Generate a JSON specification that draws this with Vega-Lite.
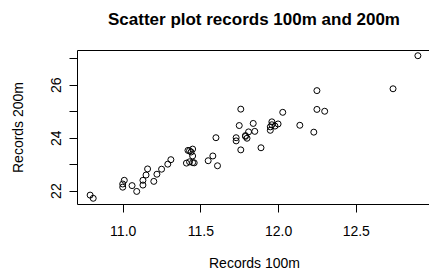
{
  "$schema": "https://vega.github.io/schema/vega-lite/v6.json",
  "autosize": "none",
  "padding": {"left": 77, "top": 50, "right": 0, "bottom": 71},
  "width": 354,
  "height": 154,
  "title": {
    "text": "Scatter plot records 100m and 200m",
    "font": "Liberation Sans",
    "fontSize": 17,
    "fontWeight": "bold",
    "color": "black",
    "anchor": "middle",
    "baseline": "alphabetic",
    "offset": 8
  },
  "config": {
    "view": {"stroke": "black", "strokeWidth": 1},
    "font": "Liberation Sans",
    "axis": {
      "grid": false,
      "domain": false,
      "tickColor": "black",
      "tickSize": 8,
      "tickWidth": 1,
      "labelColor": "black",
      "labelFont": "Liberation Sans",
      "labelFontSize": 14,
      "titleFont": "Liberation Sans",
      "titleFontSize": 14,
      "titleFontWeight": "normal",
      "titleColor": "black"
    }
  },
  "data": {
    "values": [
      {"country": "Argentina", "m100": 11.61, "m200": 22.94},
      {"country": "Australia", "m100": 11.20, "m200": 22.35},
      {"country": "Austria", "m100": 11.43, "m200": 23.09},
      {"country": "Belgium", "m100": 11.41, "m200": 23.04},
      {"country": "Bermuda", "m100": 11.46, "m200": 23.05},
      {"country": "Brazil", "m100": 11.31, "m200": 23.17},
      {"country": "Burma", "m100": 12.14, "m200": 24.47},
      {"country": "Canada", "m100": 11.00, "m200": 22.25},
      {"country": "Chile", "m100": 12.00, "m200": 24.52},
      {"country": "China", "m100": 11.95, "m200": 24.41},
      {"country": "Colombia", "m100": 11.60, "m200": 24.00},
      {"country": "Cook Islands", "m100": 12.90, "m200": 27.10},
      {"country": "Costa Rica", "m100": 11.96, "m200": 24.60},
      {"country": "Czechoslovakia", "m100": 11.09, "m200": 21.97},
      {"country": "Denmark", "m100": 11.42, "m200": 23.52},
      {"country": "Dominican Republic", "m100": 11.79, "m200": 24.05},
      {"country": "Finland", "m100": 11.13, "m200": 22.39},
      {"country": "France", "m100": 11.15, "m200": 22.59},
      {"country": "East Germany", "m100": 10.81, "m200": 21.71},
      {"country": "West Germany", "m100": 11.01, "m200": 22.39},
      {"country": "UK", "m100": 11.00, "m200": 22.13},
      {"country": "Greece", "m100": 11.79, "m200": 24.08},
      {"country": "Guatemala", "m100": 11.84, "m200": 24.54},
      {"country": "Hungary", "m100": 11.45, "m200": 23.06},
      {"country": "India", "m100": 11.95, "m200": 24.28},
      {"country": "Indonesia", "m100": 11.85, "m200": 24.24},
      {"country": "Ireland", "m100": 11.43, "m200": 23.51},
      {"country": "Israel", "m100": 11.45, "m200": 23.57},
      {"country": "Italy", "m100": 11.29, "m200": 23.00},
      {"country": "Japan", "m100": 11.73, "m200": 24.00},
      {"country": "Kenya", "m100": 11.73, "m200": 23.88},
      {"country": "Korea", "m100": 11.96, "m200": 24.49},
      {"country": "DPR Korea", "m100": 12.25, "m200": 25.78},
      {"country": "Luxembourg", "m100": 12.03, "m200": 24.96},
      {"country": "Malaysia", "m100": 12.23, "m200": 24.21},
      {"country": "Mauritius", "m100": 11.76, "m200": 25.08},
      {"country": "Mexico", "m100": 11.89, "m200": 23.62},
      {"country": "Netherlands", "m100": 11.25, "m200": 22.81},
      {"country": "New Zealand", "m100": 11.55, "m200": 23.13},
      {"country": "Norway", "m100": 11.58, "m200": 23.31},
      {"country": "Papua New Guinea", "m100": 12.25, "m200": 25.07},
      {"country": "Philippines", "m100": 11.76, "m200": 23.54},
      {"country": "Poland", "m100": 11.13, "m200": 22.21},
      {"country": "Portugal", "m100": 11.81, "m200": 24.22},
      {"country": "Rumania", "m100": 11.44, "m200": 23.46},
      {"country": "Singapore", "m100": 12.30, "m200": 25.00},
      {"country": "Spain", "m100": 11.80, "m200": 23.98},
      {"country": "Sweden", "m100": 11.16, "m200": 22.82},
      {"country": "Switzerland", "m100": 11.45, "m200": 23.31},
      {"country": "Taipei", "m100": 11.22, "m200": 22.62},
      {"country": "Thailand", "m100": 11.75, "m200": 24.46},
      {"country": "Turkey", "m100": 11.98, "m200": 24.44},
      {"country": "USA", "m100": 10.79, "m200": 21.83},
      {"country": "USSR", "m100": 11.06, "m200": 22.19},
      {"country": "Western Samoa", "m100": 12.74, "m200": 25.85}
    ]
  },
  "mark": {"type": "point", "shape": "circle", "filled": false, "stroke": "black", "strokeWidth": 1, "size": 36, "opacity": 1},
  "encoding": {
    "x": {
      "field": "m100",
      "type": "quantitative",
      "scale": {"domain": [10.7056, 12.9844], "nice": false, "zero": false},
      "axis": {
        "title": "Records 100m",
        "values": [11, 11.5, 12, 12.5],
        "format": ".1f",
        "labelPadding": 12,
        "titlePadding": 18
      }
    },
    "y": {
      "field": "m200",
      "type": "quantitative",
      "scale": {"domain": [21.4944, 27.3156], "nice": false, "zero": false},
      "axis": {
        "title": "Records 200m",
        "values": [22, 23, 24, 25, 26, 27],
        "labelExpr": "datum.value % 2 == 0 ? datum.label : ''",
        "labelAngle": -90,
        "labelAlign": "center",
        "labelBaseline": "bottom",
        "labelPadding": 6,
        "titlePadding": 24
      }
    }
  }
}
